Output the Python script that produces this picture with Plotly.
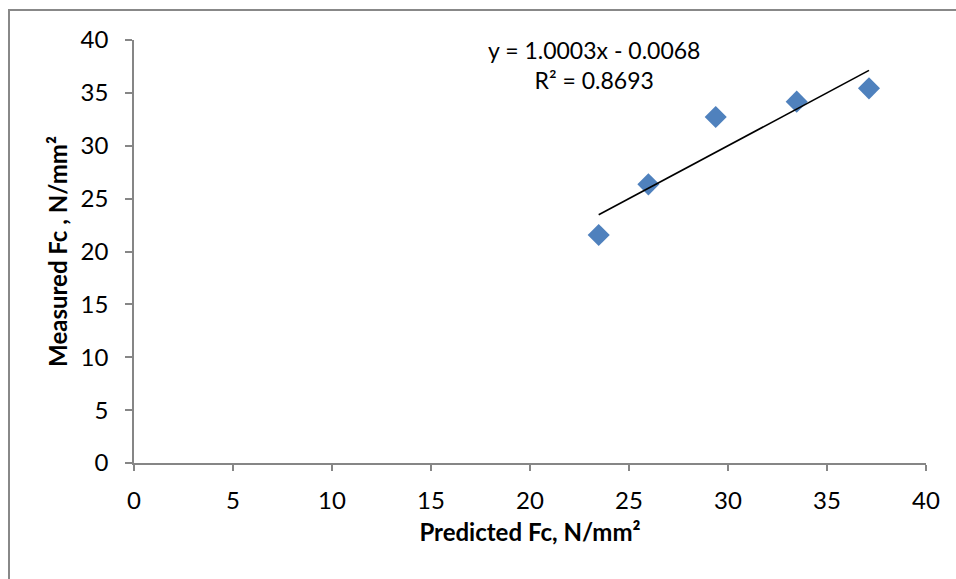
import plotly.graph_objects as go
import numpy as np

# Data
predicted_fc = [23.47, 25.98, 29.38, 33.47, 37.12]
measured_fc = [21.56, 26.35, 32.72, 34.17, 35.43]

# Trendline coefficients (as displayed)
slope = 1.0003
intercept = -0.0068
r_squared = 0.8693

tick_vals = [0, 5, 10, 15, 20, 25, 30, 35, 40]

FONT = "Lato"
AXIS_COLOR = "#868686"

fig = go.Figure()

fig.add_trace(go.Scatter(
    x=predicted_fc, y=measured_fc, mode="markers",
    marker=dict(symbol="diamond", size=17, color="#4F81BD", line=dict(width=0)),
    showlegend=False, hoverinfo="x+y",
))

tx = np.array([min(predicted_fc), max(predicted_fc)])
ty = slope * tx + intercept
fig.add_trace(go.Scatter(
    x=tx, y=ty, mode="lines", line=dict(color="black", width=1.6),
    showlegend=False, hoverinfo="skip",
))

fig.update_layout(
    width=956, height=579,
    margin=dict(l=134, r=30, t=40, b=116),
    paper_bgcolor="white", plot_bgcolor="white",
    font=dict(family=FONT, size=24, color="black"),
    xaxis=dict(
        range=[0, 40], tickvals=tick_vals, showgrid=False, zeroline=False,
        showline=True, linecolor=AXIS_COLOR, linewidth=1.5,
        ticks="outside", ticklen=6, tickcolor=AXIS_COLOR, tickwidth=1.5,
        ticklabelstandoff=9,
        title=dict(text="<b>Predicted Fc, N/mm²</b>", font=dict(family=FONT, size=24), standoff=12),
        fixedrange=True,
    ),
    yaxis=dict(
        range=[0, 40], tickvals=tick_vals, showgrid=False, zeroline=False,
        showline=True, linecolor=AXIS_COLOR, linewidth=1.5,
        ticks="outside", ticklen=7, tickcolor=AXIS_COLOR, tickwidth=1.5,
        ticklabelstandoff=12,
        title=dict(text="<b>Measured Fc , N/mm²</b>", font=dict(family=FONT, size=24), standoff=6),
        fixedrange=True,
    ),
    annotations=[
        dict(
            x=(594 - 134) / 792, y=(463 - 65) / 423, xref="x domain", yref="y domain",
            xanchor="center", yanchor="middle", showarrow=False,
            text=f"y = {slope:.4f}x - {abs(intercept):.4f}<br>R² = {r_squared:.4f}",
            align="center", font=dict(family=FONT, size=23, color="black"),
        ),
    ],
    shapes=[
        dict(type="rect", xref="paper", yref="paper",
             x0=(9 - 134) / 792, x1=(1000 - 134) / 792,
             y0=(463 - 700) / 423, y1=(463 - 10) / 423,
             line=dict(color="#888888", width=2), fillcolor="rgba(0,0,0,0)", layer="below"),
    ],
)

fig.write_html("out.html")
